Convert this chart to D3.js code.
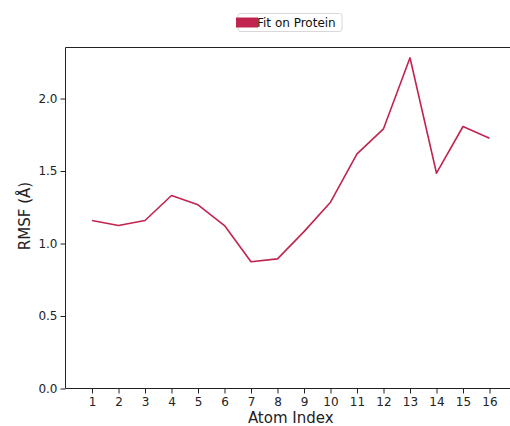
<!DOCTYPE html>
<html>
<head>
<meta charset="utf-8">
<script src="https://cdn.jsdelivr.net/npm/d3@7"></script>
<style>
  body { margin: 0; background: #fff; }
  svg { display: block; font-family: "DejaVu Sans", sans-serif; }
</style>
</head>
<body>
<svg id="chart" width="510" height="426"></svg>
<script>
// RMSF per atom index
const atomIndex = [1, 2, 3, 4, 5, 6, 7, 8, 9, 10, 11, 12, 13, 14, 15, 16];
const rmsf = [1.159, 1.124, 1.159, 1.331, 1.267, 1.124, 0.874, 0.894, 1.082, 1.285, 1.618, 1.791, 2.281, 1.485, 1.807, 1.726];
const yTicks = [0.0, 0.5, 1.0, 1.5, 2.0];
const seriesName = "Fit on Protein";

const color = "#c0244f";
const svg = d3.select("#chart");

const plotLeft = 65.5, plotTop = 47.5, plotBottom = 388.5, plotRight = 516;
const x = d3.scaleLinear().domain([0, 17]).range([plotLeft, plotRight]);
const y = d3.scaleLinear().domain([0, 2.352]).range([plotBottom, plotTop]);

// Frame: left, top and bottom spines
svg.append("path")
  .attr("d", `M${plotLeft},${plotBottom}V${plotTop}H${plotRight}M${plotLeft},${plotBottom}H${plotRight}`)
  .attr("fill", "none").attr("stroke", "#222").attr("stroke-width", 1);

// Axes
const xAxis = d3.axisBottom(x).tickValues(atomIndex).tickFormat(d3.format("d")).tickSize(5).tickPadding(4);
const gx = svg.append("g").attr("transform", `translate(0,${plotBottom})`).call(xAxis);
const yAxis = d3.axisLeft(y).tickValues(yTicks).tickFormat(d3.format(".1f")).tickSize(5).tickPadding(3);
const gy = svg.append("g").attr("transform", `translate(${plotLeft},0)`).call(yAxis);
[gx, gy].forEach(g => {
  g.select(".domain").remove();
  g.selectAll(".tick line").attr("stroke", "#222");
  g.selectAll(".tick text").attr("fill", "#222").style("font-size", "12px").style("font-family", "DejaVu Sans");
});

// Line
const line = d3.line().x((d, i) => x(atomIndex[i])).y(d => y(d));
svg.append("path").datum(rmsf)
  .attr("d", line)
  .attr("fill", "none").attr("stroke", color).attr("stroke-width", 1.6)
  .attr("stroke-linejoin", "round");

// Axis labels
svg.append("text").attr("x", (plotLeft + plotRight) / 2).attr("y", 423)
  .attr("text-anchor", "middle").style("font-size", "15px").attr("fill", "#222")
  .text("Atom Index");
svg.append("text").attr("transform", `translate(29.5,216) rotate(-90)`)
  .attr("text-anchor", "middle").style("font-size", "15px").attr("fill", "#222")
  .text("RMSF (Å)");

// Legend
const lg = svg.append("g");
lg.append("rect").attr("x", 238).attr("y", 13.5).attr("width", 104).attr("height", 18)
  .attr("rx", 2.5).attr("fill", "#fff").attr("stroke", "#d8d8d8");
lg.append("rect").attr("x", 236).attr("y", 17.5).attr("width", 22).attr("height", 10).attr("fill", color);
lg.append("text").attr("x", 257).attr("y", 27).style("font-size", "12px").attr("fill", "#111")
  .text(seriesName);
</script>
</body>
</html>
